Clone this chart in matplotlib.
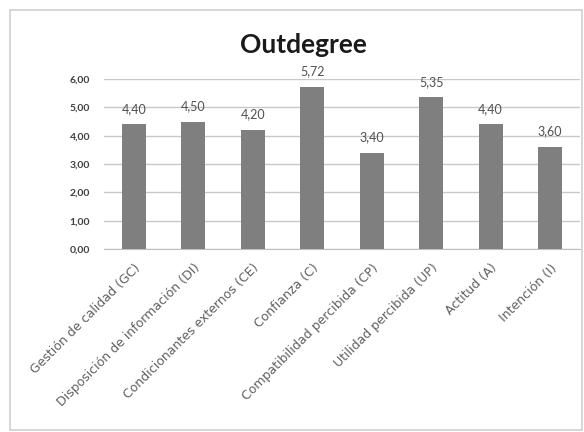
import matplotlib.pyplot as plt
from matplotlib.patches import Rectangle

# Datos del gráfico
categorias = ['Gestión de calidad (GC)', 'Disposición de información (DI)',
              'Condicionantes externos (CE)', 'Confianza (C)',
              'Compatibilidad percibida (CP)', 'Utilidad percibida (UP)',
              'Actitud (A)', 'Intención (I)']
valores = [4.40, 4.50, 4.20, 5.72, 3.40, 5.35, 4.40, 3.60]
ticks_y = [0, 1, 2, 3, 4, 5, 6]

plt.rcParams['font.family'] = ['Lato', 'DejaVu Sans']

fig = plt.figure(figsize=(5.84, 4.32), dpi=100)
fig.patch.set_facecolor('white')

# marco exterior del gráfico
fig.patches.append(Rectangle((0.017, 0.005), 0.98, 0.972, transform=fig.transFigure,
                             fill=False, edgecolor='#d0d0d0', linewidth=1.2))

ax = fig.add_axes([0.178, 0.4236, 0.815, 0.3934])
x = range(len(categorias))
ax.bar(x, valores, width=0.4, color='#7f7f7f', zorder=3)

# etiquetas de datos
for xi, v in zip(x, valores):
    ax.text(xi, v + 0.55, f'{v:.2f}'.replace('.', ','), ha='center', va='center',
            fontsize=9, color='#505050')

ax.set_ylim(0, 6)
ax.set_xlim(-0.5, len(categorias) - 0.5)
ax.set_yticks(ticks_y)
ax.set_yticklabels([f'{t:.2f}'.replace('.', ',') for t in ticks_y],
                   fontsize=7.5, fontweight='bold', color='#404040')
ax.yaxis.grid(True, color='#c8c8c8', linewidth=1, zorder=0)
ax.tick_params(axis='y', length=0, pad=10)

ax.set_xticks(list(x))
ax.set_xticklabels(categorias, rotation=45, ha='right', rotation_mode='anchor',
                   fontsize=9, color='#606060', family='DejaVu Sans')
ax.tick_params(axis='x', length=0, pad=9)

for s in ['top', 'right', 'left']:
    ax.spines[s].set_visible(False)
ax.spines['bottom'].set_color('#bfbfbf')

fig.text(0.519, 0.896, 'Outdegree', ha='center', va='center', fontsize=19,
         fontweight='bold', color='#1a1a1a')

fig.savefig('out.png', dpi=100)
